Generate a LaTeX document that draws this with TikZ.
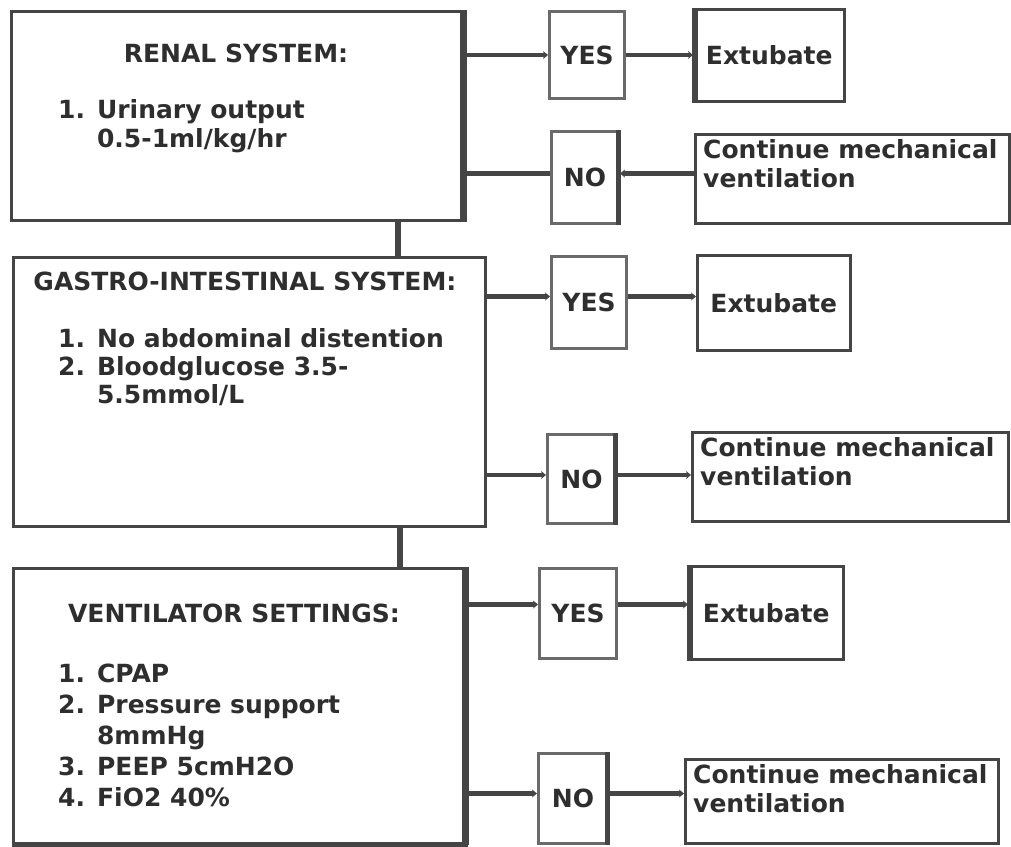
\documentclass[tikz,border=0pt]{standalone}
\usepackage{fontspec}
\setmainfont{DejaVu Sans}
\usetikzlibrary{arrows.meta,positioning}
\definecolor{ink}{HTML}{2E2E2E}
\definecolor{frame}{HTML}{454545}

\tikzset{
  txt/.style={font=\fontsize{25}{29}\selectfont\bfseries,text=ink,inner sep=0pt},
  sysbox/.style={draw=frame,line width=2.6pt,anchor=north west,inner sep=0pt},
  ynbox/.style={draw=frame!80,line width=3pt,anchor=north west,inner sep=0pt,
    font=\fontsize{25}{29}\selectfont\bfseries,text=ink},
  endbox/.style={draw=frame,line width=2.6pt,anchor=north west,inner sep=0pt,
    font=\fontsize{25}{29}\selectfont\bfseries,text=ink},
  conn/.style={draw=frame,line width=4.5pt,-{Stealth[length=5pt,width=8pt]}},
  link/.style={draw=frame,line width=4.5pt},
  vlink/.style={draw=frame,line width=6pt}
}

\newcommand{\itemlist}[1]{\begin{tabular}[t]{@{}l@{\hspace{12pt}}l@{}}#1\end{tabular}}

\begin{document}
\begin{tikzpicture}[x=1pt,y=-1pt]
\useasboundingbox (0,0) rectangle (1011,846);

% left column: the three systems
\node[sysbox,minimum width=453pt,minimum height=209pt] (renal) at (10,10) {};
\node[sysbox,minimum width=472pt,minimum height=269pt] (gi) at (12,256) {};
\node[sysbox,minimum width=453pt,minimum height=275pt] (vent) at (12,567) {};
\draw[frame,line width=7pt] ([xshift=-2pt]renal.north east) -- ([xshift=-2pt]renal.south east);
\draw[frame,line width=7pt] ([xshift=-2pt]vent.north east) -- ([xshift=-2pt]vent.south east);
\draw[frame,line width=5pt] (vent.south west) -- (vent.south east);

\node[txt,anchor=base] (renalT) at (236,62) {RENAL SYSTEM:};
\node[txt,anchor=base west] (renalL) at (58,118)
  {\itemlist{1. & Urinary output\\ & 0.5-1ml/kg/hr}};

\node[txt,anchor=base] (giT) at (245,290) {GASTRO-INTESTINAL SYSTEM:};
\node[txt,anchor=base west] (giL) at (58,347)
  {\fontsize{25}{28}\selectfont\itemlist{1. & No abdominal distention\\
   2. & Bloodglucose 3.5-\\ & 5.5mmol/L}};

\node[txt,anchor=base] (ventT) at (234,622) {VENTILATOR SETTINGS:};
\node[txt,anchor=base west] (ventL) at (58,682)
  {\fontsize{25}{31}\selectfont\itemlist{1. & CPAP\\ 2. & Pressure support\\
   & 8mmHg\\ 3. & PEEP 5cmH2O\\ 4. & FiO2 40\%}};

% right column: decisions and outcomes
\node[ynbox,minimum width=75pt,minimum height=87pt] (yes1) at (548,10) {YES};
\node[endbox,minimum width=150pt,minimum height=92pt] (ext1) at (693,8) {Extubate};
\node[ynbox,minimum width=67pt,minimum height=92pt] (no1) at (550,130) {NO};
\node[endbox,minimum width=314pt,minimum height=89pt] (cont1) at (694,133) {};

\node[ynbox,minimum width=75pt,minimum height=92pt] (yes2) at (550,255) {YES};
\node[endbox,minimum width=153pt,minimum height=95pt] (ext2) at (696,254) {Extubate};
\node[ynbox,minimum width=68pt,minimum height=89pt] (no2) at (546,433) {NO};
\node[endbox,minimum width=316pt,minimum height=89pt] (cont2) at (691,431) {};

\node[ynbox,minimum width=77pt,minimum height=90pt] (yes3) at (538,567) {YES};
\node[endbox,minimum width=154pt,minimum height=93pt] (ext3) at (688,565) {Extubate};
\node[ynbox,minimum width=69pt,minimum height=90pt] (no3) at (537,752) {NO};
\node[endbox,minimum width=313pt,minimum height=84pt] (cont3) at (684,758) {};

\node[txt,anchor=north west,align=left] (cont1T) at ([shift={(9pt,-6pt)}]cont1.north west)
  {Continue mechanical\\ventilation};
\node[txt,anchor=north west,align=left] (cont2T) at ([shift={(9pt,-6pt)}]cont2.north west)
  {Continue mechanical\\ventilation};
\node[txt,anchor=north west,align=left] (cont3T) at ([shift={(9pt,-6pt)}]cont3.north west)
  {Continue mechanical\\ventilation};

% heavier edges
\draw[frame,line width=6pt] ([xshift=2pt]ext1.north west) -- ([xshift=2pt]ext1.south west);
\draw[frame,line width=6pt] ([xshift=2pt]ext3.north west) -- ([xshift=2pt]ext3.south west);
\draw[frame,line width=5pt] ([xshift=-2pt]no1.north east) -- ([xshift=-2pt]no1.south east);
\draw[frame,line width=5pt] ([xshift=-2pt]no2.north east) -- ([xshift=-2pt]no2.south east);
\draw[frame,line width=5pt] ([xshift=-2pt]no3.north east) -- ([xshift=-2pt]no3.south east);

% links between systems
\draw[vlink] ([xshift=160pt]renal.south) -- ([xshift=160pt]renal.south |- gi.north);
\draw[vlink] ([xshift=151pt]gi.south) -- ([xshift=151pt]gi.south |- vent.north);

% yes / no branches
\draw[conn] (renal.east |- yes1.west) -- (yes1.west);
\draw[conn] (yes1.east) -- (ext1.west |- yes1.east);
\draw[link] ([yshift=4pt]renal.east |- no1.west) -- ([yshift=4pt]no1.west);
\draw[conn] ([yshift=4pt]cont1.west |- no1.east) -- ([yshift=4pt]no1.east);

\draw[conn] ([yshift=6pt]gi.east |- yes2.west) -- ([yshift=6pt]yes2.west);
\draw[conn] ([yshift=6pt]yes2.east) -- ([yshift=6pt]ext2.west |- yes2.east);
\draw[conn] ([yshift=4pt]gi.east |- no2.west) -- ([yshift=4pt]no2.west);
\draw[conn] ([yshift=4pt]no2.east) -- ([yshift=4pt]cont2.west |- no2.east);

\draw[conn] ([yshift=9pt]vent.east |- yes3.west) -- ([yshift=9pt]yes3.west);
\draw[conn] ([yshift=9pt]yes3.east) -- ([yshift=9pt]ext3.west |- yes3.east);
\draw[conn] ([yshift=5pt]vent.east |- no3.west) -- ([yshift=5pt]no3.west);
\draw[conn] ([yshift=5pt]no3.east) -- ([yshift=5pt]cont3.west |- no3.east);
\end{tikzpicture}
\end{document}
